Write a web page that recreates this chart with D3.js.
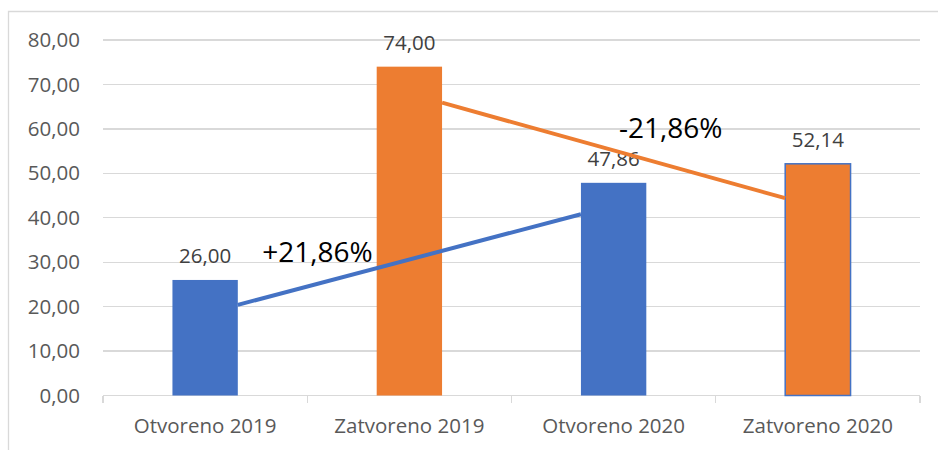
<!DOCTYPE html>
<meta charset="utf-8">
<html>
<head>
    <style>
        body {
            margin: 0;
            background: #fff;
            font-family: 'Open Sans', sans-serif;
        }

        .grid line {
            stroke: #d9d9d9;
            stroke-width: 1.3px;
            shape-rendering: crispEdges;
        }

        .ylab {
            font-size: 20.5px;
            fill: #595959;
        }

        .xlab {
            font-size: 20.5px;
            fill: #595959;
        }

        .val {
            font-size: 20.5px;
            fill: #404040;
        }

        .pct {
            font-size: 28px;
            fill: #000;
        }
    </style>
</head>

<body>
    <svg id="chart"></svg>

    <script src="https://cdn.jsdelivr.net/npm/d3@7"></script>
    <script>

        // data
        var categories = ["Otvoreno 2019", "Zatvoreno 2019", "Otvoreno 2020", "Zatvoreno 2020"];
        var values = [26.00, 74.00, 47.86, 52.14];
        var valueLabels = ["26,00", "74,00", "47,86", "52,14"];
        var barColors = ["#4472C4", "#ED7D31", "#4472C4", "#ED7D31"];
        var yTicks = [0, 10, 20, 30, 40, 50, 60, 70, 80];

        // the two hand drawn lines: from one bar's right edge to another bar's left edge
        var changeLines = [
            { from: "Otvoreno 2019", to: "Otvoreno 2020", v0: 20.4, v1: 40.8, color: "#4472C4" },
            { from: "Zatvoreno 2019", to: "Zatvoreno 2020", v0: 65.9, v1: 44.4, color: "#ED7D31" }
        ];
        // percentage notes: position as category index offset + value
        var changeNotes = [
            { text: "+21,86%", at: 0.55, v: 30.0 },
            { text: "-21,86%", at: 2.28, v: 57.9 }
        ];

        var W = 938, H = 450;
        var margin = { top: 40, right: 18, bottom: 55, left: 103 };
        var width = W - margin.left - margin.right,
            height = 395.5 - margin.top;

        var svg = d3.select("#chart")
            .attr("width", W)
            .attr("height", H);

        // chart area frame (only top and left visible)
        svg.append("path")
            .attr("d", "M8.5," + H + "V11.5H" + W)
            .attr("fill", "none")
            .attr("stroke", "#d9d9d9")
            .attr("stroke-width", 1.3);

        var g = svg.append("g")
            .attr("transform", "translate(" + margin.left + "," + margin.top + ")");

        var x = d3.scaleBand()
            .domain(categories)
            .range([0, width])
            .padding(0);

        var y = d3.scaleLinear()
            .domain([0, 80])
            .range([height, 0]);

        var barW = x.bandwidth() * 0.32;

        // gridlines
        g.append("g")
            .attr("class", "grid")
            .selectAll("line")
            .data(yTicks.filter(function (d) { return d > 0; }))
            .enter().append("line")
            .attr("x1", 0)
            .attr("x2", width)
            .attr("y1", function (d) { return y(d); })
            .attr("y2", function (d) { return y(d); });

        // y labels
        g.selectAll(".ylab")
            .data(yTicks)
            .enter().append("text")
            .attr("class", "ylab")
            .attr("x", -23)
            .attr("y", function (d) { return y(d); })
            .attr("dy", "0.35em")
            .attr("text-anchor", "end")
            .text(function (d) { return d3.format(".2f")(d).replace(".", ","); });

        // x axis: baseline with ticks at category boundaries
        var boundaries = categories.map(function (c) { return x(c); }).concat([width]);
        var ax = g.append("g")
            .attr("class", "grid")
            .attr("transform", "translate(0," + height + ")");
        ax.append("line")
            .attr("x1", 0).attr("x2", width)
            .attr("y1", 0).attr("y2", 0);
        ax.selectAll(".tk")
            .data(boundaries)
            .enter().append("line")
            .attr("x1", function (d) { return d; })
            .attr("x2", function (d) { return d; })
            .attr("y1", 0).attr("y2", 7);

        g.selectAll(".xlab")
            .data(categories)
            .enter().append("text")
            .attr("class", "xlab")
            .attr("x", function (d) { return x(d) + x.bandwidth() / 2; })
            .attr("y", height + 37)
            .attr("text-anchor", "middle")
            .text(function (d) { return d; });

        // bars
        g.selectAll(".bar")
            .data(categories)
            .enter().append("rect")
            .attr("class", "bar")
            .attr("x", function (d) { return x(d) + (x.bandwidth() - barW) / 2; })
            .attr("width", barW)
            .attr("y", function (d, i) { return y(values[i]); })
            .attr("height", function (d, i) { return height - y(values[i]); })
            .attr("fill", function (d, i) { return barColors[i]; })
            .attr("stroke", function (d, i) { return i == 3 ? "#4472C4" : "none"; })
            .attr("stroke-width", 1.5);

        // value labels
        g.selectAll(".val")
            .data(categories)
            .enter().append("text")
            .attr("class", "val")
            .attr("x", function (d) { return x(d) + x.bandwidth() / 2; })
            .attr("y", function (d, i) { return y(values[i]) - 17; })
            .attr("text-anchor", "middle")
            .text(function (d, i) { return valueLabels[i]; });

        // change lines
        g.selectAll(".chg")
            .data(changeLines)
            .enter().append("line")
            .attr("x1", function (d) { return x(d.from) + (x.bandwidth() + barW) / 2; })
            .attr("x2", function (d) { return x(d.to) + (x.bandwidth() - barW) / 2; })
            .attr("y1", function (d) { return y(d.v0); })
            .attr("y2", function (d) { return y(d.v1); })
            .attr("stroke", function (d) { return d.color; })
            .attr("stroke-width", 4);

        // percentage notes
        g.selectAll(".pct")
            .data(changeNotes)
            .enter().append("text")
            .attr("class", "pct")
            .attr("x", function (d) { return (d.at + 0.5) * x.step(); })
            .attr("y", function (d) { return y(d.v); })
            .attr("text-anchor", "middle")
            .text(function (d) { return d.text; });

    </script>
</body>
</html>
